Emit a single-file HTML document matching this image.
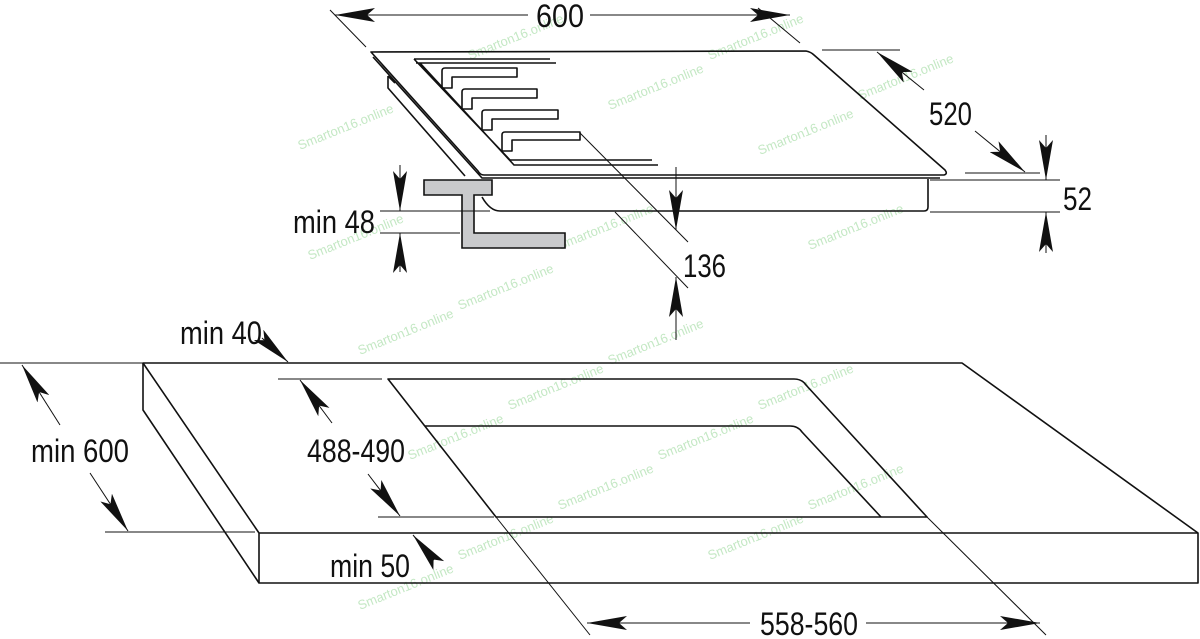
<!DOCTYPE html>
<html><head><meta charset="utf-8"><style>
html,body{margin:0;padding:0;background:#fff;}
svg{display:block;}
text{font-family:"Liberation Sans",sans-serif;}
.d{font-size:32px;fill:#111;}
.w{font-size:13px;fill:#c4e8c4;}
</style></head><body>
<svg width="1200" height="639" viewBox="0 0 1200 639" xmlns="http://www.w3.org/2000/svg">
<defs>
<marker id="a" viewBox="0 0 10 10" refX="10" refY="5" markerWidth="40" markerHeight="14" markerUnits="userSpaceOnUse" orient="auto" preserveAspectRatio="none"><path d="M0,0 L10,5 L0,10 L2,5 Z" fill="#111"/></marker>
</defs>
<g class="w">
<text transform="translate(470,60) rotate(-22)">Smarton16.online</text>
<text transform="translate(710,60) rotate(-22)">Smarton16.online</text>
<text transform="translate(300,150) rotate(-22)">Smarton16.online</text>
<text transform="translate(610,110) rotate(-22)">Smarton16.online</text>
<text transform="translate(760,155) rotate(-22)">Smarton16.online</text>
<text transform="translate(860,100) rotate(-22)">Smarton16.online</text>
<text transform="translate(310,260) rotate(-22)">Smarton16.online</text>
<text transform="translate(460,310) rotate(-22)">Smarton16.online</text>
<text transform="translate(560,250) rotate(-22)">Smarton16.online</text>
<text transform="translate(810,250) rotate(-22)">Smarton16.online</text>
<text transform="translate(610,365) rotate(-22)">Smarton16.online</text>
<text transform="translate(360,355) rotate(-22)">Smarton16.online</text>
<text transform="translate(510,410) rotate(-22)">Smarton16.online</text>
<text transform="translate(760,410) rotate(-22)">Smarton16.online</text>
<text transform="translate(410,460) rotate(-22)">Smarton16.online</text>
<text transform="translate(660,460) rotate(-22)">Smarton16.online</text>
<text transform="translate(560,510) rotate(-22)">Smarton16.online</text>
<text transform="translate(810,510) rotate(-22)">Smarton16.online</text>
<text transform="translate(460,560) rotate(-22)">Smarton16.online</text>
<text transform="translate(710,560) rotate(-22)">Smarton16.online</text>
<text transform="translate(360,610) rotate(-22)">Smarton16.online</text>
</g>
<g fill="none" stroke="#111" stroke-width="1.6" stroke-linejoin="round">
<path d="M371,52 L806,51 Q811,52 814,55 L945,170 Q948,174 944,175 L484,175 Q480,175 478,171 Z"/>
<path d="M373,57 L482,178 L940,178"/>
<path d="M388,76 L388,88 L465,176"/>
<path d="M388,76 L395,83"/>
<path d="M482,197 Q490,211 500,211 L924,211 Q928,211 928,207 L928,179"/>
<path d="M414,59 L550,59 M416,63 L556,63 M414,59 L510,160 L652,160 M420,63 L514,165 L658,165"/>
<path d="M442,88 L442,71 Q442,68 445,68 L517,68 L517,77 L452,77 L452,88 Z"/>
<path d="M462,109 L462,92 Q462,89 465,89 L537,89 L537,98 L472,98 L472,109 Z"/>
<path d="M482,130 L482,113 Q482,110 485,110 L558,110 L558,119 L492,119 L492,130 Z"/>
<path d="M502,151 L502,135 Q502,132 505,132 L580,132 L580,140 L512,140 L512,151 Z"/>
</g>
<path d="M424,180 L492,180 L492,195 L474,195 L474,233 L565,233 L565,248 L462,248 L462,195 L424,195 Z" fill="#c9cacc" stroke="#111" stroke-width="1.6"/>
<g stroke="#111" stroke-width="1" fill="none">
<line x1="330" y1="10" x2="366" y2="47"/><line x1="758" y1="8" x2="800" y2="43"/>
<line x1="528" y1="15" x2="335" y2="15" marker-end="url(#a)"/>
<line x1="590" y1="15" x2="790" y2="15" marker-end="url(#a)"/>
<line x1="822" y1="50" x2="900" y2="50"/><line x1="965" y1="173" x2="1040" y2="173"/>
<line x1="924" y1="90" x2="877" y2="52" marker-end="url(#a)"/>
<line x1="975" y1="131" x2="1025" y2="172" marker-end="url(#a)"/>
<line x1="930" y1="180" x2="1060" y2="180"/><line x1="930" y1="212" x2="1060" y2="212"/>
<line x1="1046" y1="135" x2="1046" y2="180" marker-end="url(#a)"/>
<line x1="1046" y1="253" x2="1046" y2="212" marker-end="url(#a)"/>
<line x1="380" y1="211" x2="490" y2="211"/><line x1="380" y1="233" x2="460" y2="233"/>
<line x1="400" y1="165" x2="400" y2="211" marker-end="url(#a)"/>
<line x1="400" y1="272" x2="400" y2="233" marker-end="url(#a)"/>
<line x1="580" y1="133" x2="688" y2="242"/><line x1="615" y1="212" x2="688" y2="288"/>
<line x1="676" y1="167" x2="676" y2="230" marker-end="url(#a)"/>
<line x1="676" y1="340" x2="676" y2="277" marker-end="url(#a)"/>
</g>
<g fill="none" stroke="#111" stroke-width="1.6" stroke-linejoin="round">
<path d="M143,363 L962,363 L1198,533 L1198,583 L259,583 L143,410 Z"/>
<path d="M143,363 L259,533 L1198,533 M259,533 L259,583"/>
<path d="M388,379 L794,379 Q802,379 806,385 L927,517 L496,517 Z"/>
<path d="M425,426 L790,426 Q798,426 802,432 L881,517"/>
</g>
<g stroke="#111" stroke-width="1" fill="none">
<line x1="0" y1="363" x2="143" y2="363"/><line x1="105" y1="532" x2="255" y2="532"/>
<line x1="60" y1="425" x2="22" y2="365" marker-end="url(#a)"/>
<line x1="90" y1="473" x2="128" y2="531" marker-end="url(#a)"/>
<line x1="262" y1="338" x2="288" y2="362" marker-end="url(#a)"/>
<line x1="278" y1="379" x2="382" y2="379"/><line x1="378" y1="517" x2="494" y2="517"/>
<line x1="332" y1="423" x2="300" y2="380" marker-end="url(#a)"/>
<line x1="368" y1="474" x2="400" y2="516" marker-end="url(#a)"/>
<line x1="434" y1="560" x2="413" y2="535" marker-end="url(#a)"/>
<line x1="496" y1="517" x2="590" y2="635"/><line x1="927" y1="517" x2="1046" y2="635"/>
<line x1="750" y1="623" x2="587" y2="623" marker-end="url(#a)"/>
<line x1="866" y1="623" x2="1040" y2="623" marker-end="url(#a)"/>
</g>
<g class="d">
<text x="536" y="27" textLength="48" lengthAdjust="spacingAndGlyphs">600</text>
<text x="929" y="125" textLength="43" lengthAdjust="spacingAndGlyphs">520</text>
<text x="1063" y="210" textLength="29" lengthAdjust="spacingAndGlyphs">52</text>
<text x="293" y="233" textLength="82" lengthAdjust="spacingAndGlyphs">min 48</text>
<text x="683" y="277" textLength="43" lengthAdjust="spacingAndGlyphs">136</text>
<text x="180" y="344" textLength="82" lengthAdjust="spacingAndGlyphs">min 40</text>
<text x="31" y="462" textLength="98" lengthAdjust="spacingAndGlyphs">min 600</text>
<text x="307" y="462" textLength="98" lengthAdjust="spacingAndGlyphs">488-490</text>
<text x="330" y="577" textLength="80" lengthAdjust="spacingAndGlyphs">min 50</text>
<text x="760" y="635" textLength="98" lengthAdjust="spacingAndGlyphs">558-560</text>
</g>
</svg>
</body></html>
